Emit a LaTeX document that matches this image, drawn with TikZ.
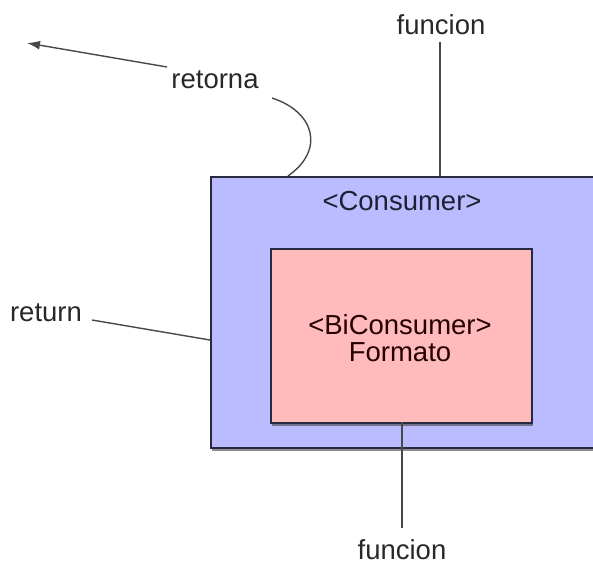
\documentclass[tikz,border=0pt]{standalone}
\usepackage{fontspec}
\setmainfont{Liberation Sans}
\usetikzlibrary{shadows,arrows.meta}
\definecolor{boxblue}{RGB}{187,187,255}
\definecolor{boxpink}{RGB}{255,187,187}
\definecolor{edge}{RGB}{40,40,65}
\definecolor{ink}{RGB}{40,40,40}
\tikzset{
  frame/.style={draw=edge, line width=1.6pt,
    drop shadow={shadow xshift=1pt, shadow yshift=-3.5pt, opacity=0.6, fill=black!75}},
  label/.style={font=\fontsize{27.5}{29}\selectfont, text=ink, inner sep=0pt},
  wire/.style={draw=ink!85, line width=1.4pt},
}
\begin{document}
\begin{tikzpicture}[x=1pt, y=-1pt]
  \useasboundingbox (0,0) rectangle (593,567);
  \clip (0,0) rectangle (593,567);

  % containing Consumer box (runs past the right edge)
  \node[frame, fill=boxblue, minimum width=390pt, minimum height=271pt,
        inner sep=0pt, anchor=north west] (outer) at (210,176) {};
  \node[label, text=edge!80!black] (ctitle) at (402,201) {<Consumer>};

  % nested BiConsumer box
  \node[frame, fill=boxpink, minimum width=261pt, minimum height=174pt,
        inner sep=0pt, anchor=north west] (inner) at (270,248) {};
  \node[label, text=black!85!red, align=center,
        font=\fontsize{27.5}{27}\selectfont] (btitle) at (400,338)
        {<BiConsumer>\\Formato};

  % labels around the boxes
  \node[label] (ftop) at (441,25) {funcion};
  \node[label] (fbot) at (402,550) {funcion};
  \node[label] (ret) at (46,313) {return};
  \node[label] (retorna) at (215,80) {retorna};

  \coordinate (rin) at (210,340);
  \coordinate (tip) at (27,43);
  \coordinate (rstart) at (272,98);
  \coordinate (rend) at (288,176);

  % connectors
  \draw[wire] (440,42) -- (440,176);
  \draw[wire] (402,422) -- (402,528);
  \draw[wire] (92,320) -- (rin);
  \draw[wire, -{Latex[length=13pt,width=9pt]}] (167,67) -- (tip);
  \draw[wire] (rstart) .. controls (315,112) and (325,150) .. (rend);
\end{tikzpicture}
\end{document}
